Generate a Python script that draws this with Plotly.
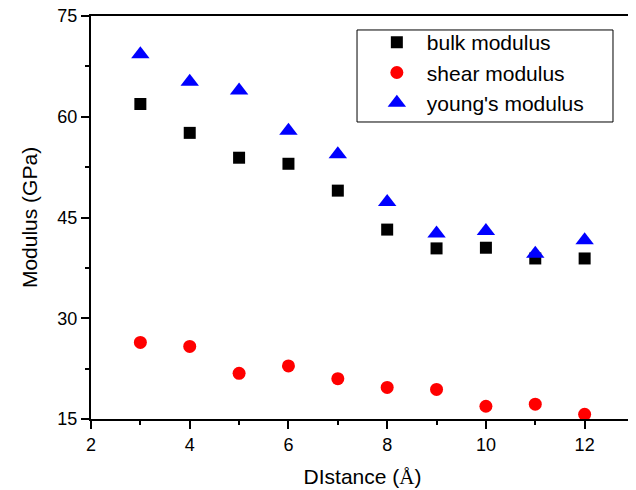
import plotly.graph_objects as go

distance = [3, 4, 5, 6, 7, 8, 9, 10, 11, 12]
bulk = [61.9, 57.6, 53.9, 53.0, 49.0, 43.2, 40.4, 40.5, 38.9, 38.9]
shear = [26.4, 25.8, 21.8, 22.9, 21.0, 19.7, 19.4, 16.9, 17.2, 15.7]
young = [69.3, 65.2, 63.9, 57.9, 54.4, 47.3, 42.6, 43.0, 39.6, 41.6]

x_ticks = [2, 4, 6, 8, 10, 12]
y_ticks = [15, 30, 45, 60, 75]
x_range = [2, 13]
y_range = [15, 75]

font = "Liberation Sans, Arial, sans-serif"

fig = go.Figure()
fig.add_trace(go.Scatter(x=distance, y=bulk, mode="markers", name="bulk modulus",
                         marker=dict(symbol="square", size=12, color="black")))
fig.add_trace(go.Scatter(x=distance, y=shear, mode="markers", name="shear modulus",
                         marker=dict(symbol="circle", size=13, color="red")))
fig.add_trace(go.Scatter(x=distance, y=young, mode="markers", name="young's modulus",
                         marker=dict(symbol="triangle-up", size=16, color="blue")))

axis_common = dict(showgrid=False, zeroline=False, showline=True, linecolor="black",
                   linewidth=2, tickcolor="black", tickwidth=1.5, automargin=False)
minor_x = dict(dtick=1, ticklen=4, tickcolor="black", tickwidth=1.5)
minor_y = dict(dtick=7.5, tick0=15, ticklen=4, tickcolor="black", tickwidth=1.5)

# legend frame (decoration) in paper coordinates
fig.add_shape(type="rect", xref="paper", yref="paper",
              x0=0.4899, x1=0.9613, y0=0.737, y1=0.9653,
              line=dict(color="black", width=1), fillcolor="rgba(0,0,0,0)", layer="above")

fig.update_layout(
    width=628, height=482,
    margin=dict(l=83, r=2, t=8, b=71),
    paper_bgcolor="white", plot_bgcolor="white",
    font=dict(family=font, size=18, color="black"),
    showlegend=True,
    legend=dict(x=0.508, y=0.985, xanchor="left", yanchor="top",
                borderwidth=0, bgcolor="rgba(0,0,0,0)",
                font=dict(size=21), itemwidth=50),
    xaxis=dict(range=x_range, tickvals=x_ticks, ticks="outside", ticklen=8,
               minor=dict(ticks="outside", **minor_x), ticklabeloverflow="allow",
               title=dict(text='DIstance (<span style="font-family:Liberation Serif">Å</span>)',
                          font=dict(size=21), standoff=16),
               tickfont=dict(size=18), mirror=True, **axis_common),
    yaxis=dict(range=y_range, tickvals=y_ticks, ticks="outside", ticklen=8,
               minor=dict(ticks="outside", **minor_y), ticklabeloverflow="allow",
               title=dict(text="Modulus (GPa)", font=dict(size=21), standoff=14),
               tickfont=dict(size=18), mirror=True, **axis_common),
    xaxis2=dict(range=x_range, overlaying="x", side="top", anchor="y", tickvals=x_ticks,
                ticks="inside", ticklen=8, showticklabels=False,
                minor=dict(ticks="inside", **minor_x), **axis_common),
    yaxis2=dict(range=y_range, overlaying="y", side="right", anchor="x", tickvals=y_ticks,
                ticks="inside", ticklen=8, showticklabels=False,
                minor=dict(ticks="inside", **minor_y), **axis_common),
)

fig.write_html("out.html")
